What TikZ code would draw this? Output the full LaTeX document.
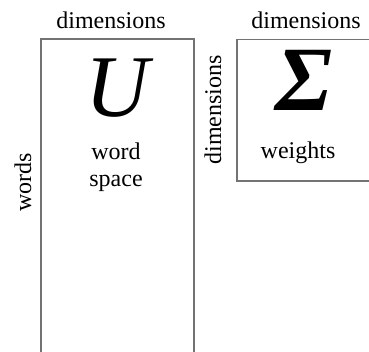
\documentclass[tikz,border=0pt]{standalone}
\usepackage{fontspec}
\setmainfont{Liberation Serif}
\newfontfamily\timesfont{Liberation Serif}[Scale=1.0]
\usetikzlibrary{positioning}

\begin{document}
\begin{tikzpicture}[x=1pt, y=-1pt,
  matrixbox/.style = {draw=black!55, line width=1.5pt, anchor=north west,
                      inner sep=0pt},
  lbl/.style       = {font=\timesfont\fontsize{24}{28}\selectfont, inner sep=0pt,
                      anchor=base},
  big/.style       = {font=\timesfont\fontsize{88}{90}\selectfont, inner sep=0pt,
                      anchor=base},
]
\clip (0,0) rectangle (369,351);
\useasboundingbox (0,0) rectangle (369,351);

% U matrix
\node[matrixbox, minimum width=153pt, minimum height=340pt] (ubox) at (40,38) {};
\node[lbl] (udim) at (111,28) {dimensions};
\node[lbl, rotate=90, anchor=center] (uwords) at (23,182) {words};
\node[big] (u) at (117,116) {\itshape U};
\node[lbl] (uword) at (116,159) {word};
\node[lbl] (uspace) at (116,186) {space};

% Sigma matrix
\node[matrixbox, minimum width=150pt, minimum height=141.5pt] (sbox) at (236,38.5) {};
\node[lbl] (sdim) at (306,28) {dimensions};
\node[lbl, rotate=90, anchor=center] (sdimv) at (213,110) {dimensions};
\node[big, font=\timesfont\fontsize{92}{94}\selectfont] (s) at (304,110) {\bfseries\itshape Σ};
\node[lbl] (sweights) at (298,158) {weights};

\end{tikzpicture}
\end{document}
